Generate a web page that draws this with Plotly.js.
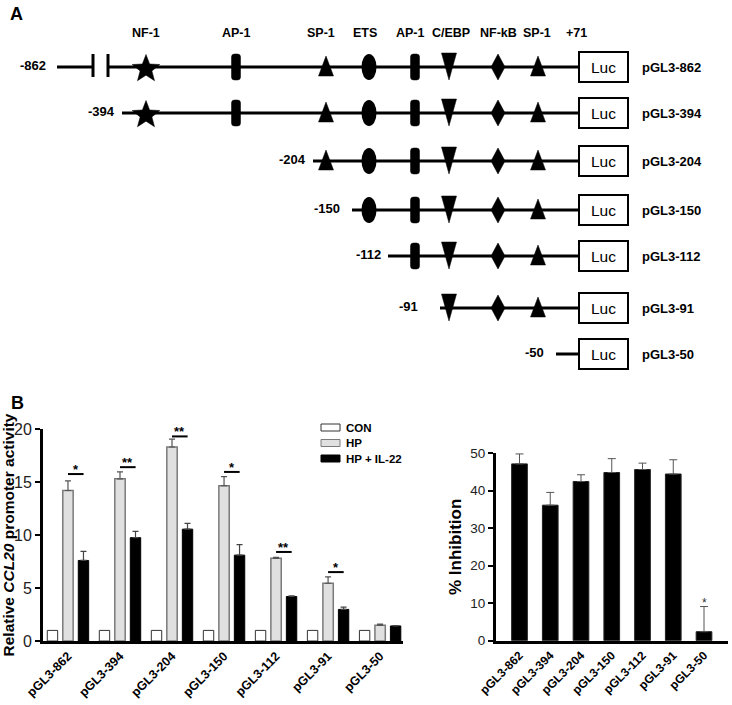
<!DOCTYPE html>
<html><head><meta charset="utf-8">
<script src="https://cdn.plot.ly/plotly-3.0.1.min.js"></script>
<style>html,body{margin:0;padding:0;background:#fff}</style>
</head><body><div id="chart" style="width:732px;height:705px"></div>
<script>
// ---------------- Panel B data ----------------
const constructs = ['pGL3-862','pGL3-394','pGL3-204','pGL3-150','pGL3-112','pGL3-91','pGL3-50'];
const legendNames = ['CON','HP','HP + IL-22'];
const conValues = [1,1,1,1,1,1,1];
const hpValues = [14.2,15.3,18.3,14.65,7.8,5.45,1.48];
const hpErrors = [0.9,0.65,0.75,0.85,0.08,0.6,0.12];
const il22Values = [7.6,9.75,10.55,8.1,4.2,2.98,1.42];
const il22Errors = [0.85,0.6,0.55,1.0,0.05,0.22,0.04];
const sigLabels = ['*','**','**','*','**','*',''];
const sigLevels = [15.75,16.4,19.3,15.95,8.4,6.5,null];
const inhibitionValues = [47.1,36.1,42.4,44.8,45.6,44.4,2.4];
const inhibitionErrors = [2.65,3.4,1.8,3.7,1.7,3.8,6.7];
const inhibitionSig = ['','','','','','','*'];
const yTicksLeft = [0,5,10,15,20];
const yTicksRight = [0,10,20,30,40,50];

// ---------------- Panel A data ----------------
const promoterStarts = ['-862','-394','-204','-150','-112','-91','-50'];
const siteNames = ['NF-1','AP-1','SP-1','ETS','AP-1','C/EBP','NF-kB','SP-1'];
const siteKinds = ['star','rect','tri','ellipse','rect','tridown','diamond','tri'];
const endLabel = '+71';
const reporterLabel = 'Luc';

// ---------------- diagram geometry (layout, not data) ----------------
const G = {
  rowY:[67,113,161,210,256,308,354],
  siteX:[146,236,326,369,415,449,498,538],
  siteLabelX:[146,236,321,365,410,451,498,537],
  startX:[57,122,313,352,388,440,556],
  startLabelX:[48,117,308,342,383,420,546],
  lucX0:579, lucX1:628, lucHalf:15,
  breakRow:0, breakX:[93,108],
  headerY:33, endX:576, nameX:640
};
const FONT = 'Arial, "Liberation Sans", sans-serif';
const py = p => 1 - p/705;

const traces = [];
const shapes = [];
const annotations = [];

// ---------- Panel A: promoter constructs ----------
const lx = [], ly = [];
G.rowY.forEach((y, i) => {
  if (i === G.breakRow) {
    lx.push(G.startX[i], G.breakX[0], null, G.breakX[1], G.lucX0, null);
    ly.push(y, y, null, y, y, null);
    G.breakX.forEach(bx => shapes.push({type:'line', xref:'x3', yref:'y3', x0:bx, x1:bx, y0:y-13, y1:y+10, line:{color:'#000', width:3}}));
  } else {
    lx.push(G.startX[i], G.lucX0, null);
    ly.push(y, y, null);
  }
});
traces.push({type:'scatter', mode:'lines', x:lx, y:ly, xaxis:'x3', yaxis:'y3', line:{color:'#000', width:3}, hoverinfo:'skip', showlegend:false});

function starPath(cx, cy, R, r){
  let d = '';
  for (let k = 0; k < 10; k++){
    const a = k*Math.PI/5, rad = k%2===0 ? R : r;
    d += (k===0?'M':'L') + (cx + rad*Math.sin(a)).toFixed(2) + ',' + (cy - rad*Math.cos(a)).toFixed(2) + ' ';
  }
  return d + 'Z';
}
function sitePath(kind, x, y){
  switch(kind){
    case 'star': return starPath(x, y+2, 14.5, 6.2);
    case 'tri': return `M${x-7.5},${y+9} L${x+7.5},${y+9} L${x},${y-11} Z`;
    case 'tridown': return `M${x-7.5},${y-14} L${x+7.5},${y-14} L${x},${y+13} Z`;
    case 'diamond': return `M${x},${y-13} L${x+7},${y} L${x},${y+13} L${x-7},${y} Z`;
    case 'rect': return `M${x-4.5},${y-10} Q${x-4.5},${y-13} ${x-1.5},${y-13} L${x+1.5},${y-13} Q${x+4.5},${y-13} ${x+4.5},${y-10} L${x+4.5},${y+10} Q${x+4.5},${y+13} ${x+1.5},${y+13} L${x-1.5},${y+13} Q${x-4.5},${y+13} ${x-4.5},${y+10} Z`;
  }
  return '';
}
G.rowY.forEach((y, i) => {
  siteKinds.forEach((kind, j) => {
    const x = G.siteX[j];
    if (x <= G.startX[i]) return;
    if (kind === 'ellipse') {
      shapes.push({type:'circle', xref:'x3', yref:'y3', x0:x-7.5, x1:x+7.5, y0:y-13, y1:y+13, fillcolor:'#000', line:{color:'#000', width:0}});
    } else {
      shapes.push({type:'path', xref:'x3', yref:'y3', path:sitePath(kind, x, y), fillcolor:'#000', line:{color:'#000', width:0.5}});
    }
  });
  shapes.push({type:'rect', xref:'x3', yref:'y3', x0:G.lucX0, x1:G.lucX1, y0:y-G.lucHalf, y1:y+G.lucHalf, fillcolor:'#fff', line:{color:'#000', width:2}});
  annotations.push({xref:'x3', yref:'y3', x:(G.lucX0+G.lucX1)/2, y:y, text:reporterLabel, showarrow:false, font:{size:15.5, color:'#000'}, xanchor:'center', yanchor:'middle'});
  annotations.push({xref:'x3', yref:'y3', x:G.nameX, y:y, text:constructs[i], showarrow:false, font:{size:13, weight:'bold', color:'#000'}, xanchor:'left', yanchor:'middle'});
  annotations.push({xref:'x3', yref:'y3', x:G.startLabelX[i], y:y-2, text:promoterStarts[i], showarrow:false, font:{size:13, weight:'bold', color:'#000'}, xanchor:'right', yanchor:'middle'});
});
siteNames.forEach((n, j) => annotations.push({xref:'x3', yref:'y3', x:G.siteLabelX[j], y:G.headerY, text:n, showarrow:false, font:{size:12.5, weight:'bold'}, xanchor:'center', yanchor:'middle'}));
annotations.push({xref:'x3', yref:'y3', x:G.endX, y:G.headerY, text:endLabel, showarrow:false, font:{size:12.5, weight:'bold'}, xanchor:'center', yanchor:'middle'});

// ---------- Panel B left: promoter activity ----------
const up0 = arr => arr.map(() => 0);
traces.push({type:'bar', name:legendNames[0], x:constructs, y:conValues, xaxis:'x', yaxis:'y', marker:{color:'#ffffff', line:{color:'#333', width:1}}, hoverinfo:'skip', showlegend:false});
traces.push({type:'bar', name:legendNames[1], x:constructs, y:hpValues, xaxis:'x', yaxis:'y', marker:{color:'#e0e0e0', line:{color:'#7a7a7a', width:1.5}}, error_y:{type:'data', array:hpErrors, arrayminus:up0(hpErrors), symmetric:false, color:'#555', thickness:1.2, width:3}, hoverinfo:'skip', showlegend:false});
traces.push({type:'bar', name:legendNames[2], x:constructs, y:il22Values, xaxis:'x', yaxis:'y', marker:{color:'#000', line:{color:'#000', width:1}}, error_y:{type:'data', array:il22Errors, arrayminus:up0(il22Errors), symmetric:false, color:'#444', thickness:1.2, width:3}, hoverinfo:'skip', showlegend:false});

sigLevels.forEach((lv, i) => {
  if (lv === null) return;
  shapes.push({type:'line', xref:'x', yref:'y', x0:i, x1:i+0.3, y0:lv, y1:lv, line:{color:'#000', width:2}});
  annotations.push({xref:'x', yref:'y', x:i+0.15, y:lv, text:sigLabels[i], showarrow:false, font:{size:13, weight:'bold'}, xanchor:'center', yanchor:'bottom', yshift:-5});
});

const legFill = ['#ffffff','#e0e0e0','#000000'];
const legLine = ['#333','#7a7a7a','#000'];
[427.5, 443, 458.5].forEach((yc, k) => {
  shapes.push({type:'rect', xref:'paper', yref:'paper', x0:321/732, x1:340/732, y0:py(yc-3.5), y1:py(yc+3.5), fillcolor:legFill[k], line:{color:legLine[k], width:1}});
  annotations.push({xref:'paper', yref:'paper', x:344/732, y:py(yc), text:legendNames[k], showarrow:false, xanchor:'left', yanchor:'middle', font:{size:11.5, weight:'bold'}});
});

// ---------- Panel B right: % inhibition ----------
traces.push({type:'bar', name:'% Inhibition', x:constructs, y:inhibitionValues, xaxis:'x2', yaxis:'y2', width:0.51, marker:{color:'#000', line:{color:'#222', width:1}}, error_y:{type:'data', array:inhibitionErrors, arrayminus:up0(inhibitionErrors), symmetric:false, color:'#555', thickness:1, width:4}, hoverinfo:'skip', showlegend:false});
inhibitionSig.forEach((s, i) => {
  if (!s) return;
  annotations.push({xref:'x2', yref:'y2', x:i, y:inhibitionValues[i]+inhibitionErrors[i], text:s, showarrow:false, font:{size:12, color:'#333'}, xanchor:'center', yanchor:'bottom', yshift:-5});
});

annotations.push({xref:'paper', yref:'paper', x:8/732, y:py(14), text:'A', showarrow:false, xanchor:'left', yanchor:'middle', font:{size:18, weight:'bold'}});
annotations.push({xref:'paper', yref:'paper', x:9/732, y:py(403), text:'B', showarrow:false, xanchor:'left', yanchor:'middle', font:{size:18, weight:'bold'}});

const xCommon = {type:'category', showline:true, linewidth:3, linecolor:'#000', ticks:'', tickangle:-45, showgrid:false, zeroline:false, fixedrange:true};
const layout = {
  width:732, height:705, margin:{l:0, r:0, t:0, b:0},
  paper_bgcolor:'#ffffff', plot_bgcolor:'rgba(0,0,0,0)',
  font:{family:FONT, color:'#000'},
  showlegend:false,
  barmode:'group', bargap:0.106, bargroupgap:0.33,
  xaxis:Object.assign({}, xCommon, {domain:[43/732, 403/732], anchor:'y', range:[-0.48, 6.44], tickfont:{size:12.5, weight:'bold', color:'#000'}}),
  yaxis:{domain:[64/705, 276/705], anchor:'x', range:[0, 20], tickvals:yTicksLeft, ticks:'outside', ticklen:5, tickwidth:2, tickcolor:'#000', showline:true, linewidth:3, linecolor:'#000', showgrid:false, zeroline:false, tickfont:{size:16, color:'#222'}, title:{text:'Relative <i>CCL20</i> promoter activity', font:{size:15.5, weight:'bold', color:'#000'}, standoff:3}, fixedrange:true},
  xaxis2:Object.assign({}, xCommon, {domain:[496/732, 728/732], anchor:'y2', range:[-0.764, 6.78], tickfont:{size:12, weight:'bold', color:'#000'}}),
  yaxis2:{domain:[64.3/705, 252/705], anchor:'x2', range:[0, 50], tickvals:yTicksRight, ticks:'outside', ticklen:5, tickwidth:2, tickcolor:'#000', showline:true, linewidth:3, linecolor:'#000', showgrid:false, zeroline:false, tickfont:{size:13.5, color:'#222'}, title:{text:'% Inhibition', font:{size:17, weight:'bold', color:'#000'}, standoff:5}, fixedrange:true},
  xaxis3:{domain:[0, 1], anchor:'y3', range:[0, 732], visible:false, fixedrange:true},
  yaxis3:{domain:[0.44, 1], anchor:'x3', range:[394.8, 0], visible:false, fixedrange:true},
  shapes:shapes, annotations:annotations
};
Plotly.newPlot('chart', traces, layout, {staticPlot:true, displayModeBar:false});
</script></body></html>
